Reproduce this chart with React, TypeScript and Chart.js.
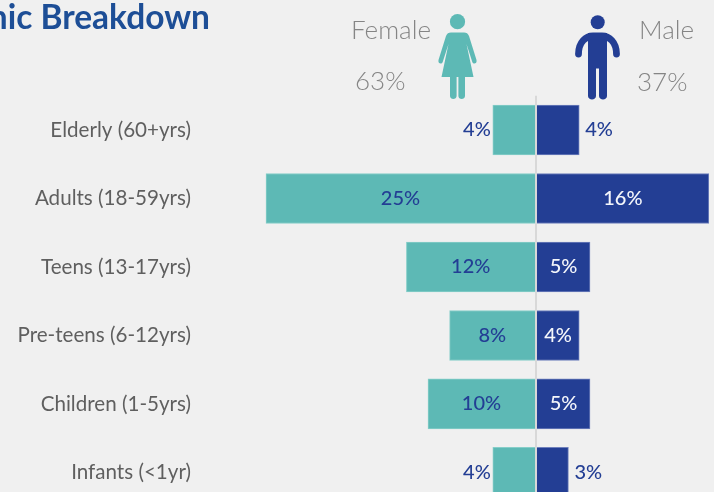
import React, { useEffect, useRef } from "react";
import { Chart, registerables } from "chart.js";

Chart.register(...registerables);

const categories = [
  "Elderly (60+yrs)",
  "Adults (18-59yrs)",
  "Teens (13-17yrs)",
  "Pre-teens (6-12yrs)",
  "Children (1-5yrs)",
  "Infants (<1yr)",
];
const femaleValues = [4, 25, 12, 8, 10, 4];
const maleValues = [4, 16, 5, 4, 5, 3];

const TEAL = "#5DB9B5";
const NAVY = "#233E94";
const FONT = "Lato, 'Noto Sans', sans-serif";

const barLabels = {
  id: "barLabels",
  afterDatasetsDraw(chart: any) {
    const { ctx } = chart;
    ctx.save();
    ctx.font = `500 20px ${FONT}`;
    ctx.textBaseline = "middle";
    chart.data.datasets.forEach((ds: any, di: number) => {
      chart.getDatasetMeta(di).data.forEach((bar: any, i: number) => {
        const v = Math.abs(ds.data[i]);
        const isFemale = di === 0;
        const outside = isFemale ? v < 8 : v < 4 || i === 0;
        const text = `${v}%`;
        const mid = (bar.x + bar.base) / 2;
        if (outside) {
          ctx.fillStyle = NAVY;
          ctx.textAlign = isFemale ? "right" : "left";
          ctx.fillText(text, bar.x + (isFemale ? -2 : 6), bar.y);
        } else {
          ctx.fillStyle = isFemale ? NAVY : "#F4F6FB";
          ctx.textAlign = "center";
          ctx.fillText(text, mid, bar.y);
        }
      });
    });
    ctx.restore();
  },
};

const headStyle: React.CSSProperties = {
  position: "absolute",
  font: `300 26px ${FONT}`,
  color: "#858585",
  lineHeight: "32px",
  whiteSpace: "nowrap",
};

export default function App() {
  const ref = useRef<HTMLCanvasElement>(null);
  useEffect(() => {
    const chart = new Chart(ref.current!, {
      type: "bar",
      data: {
        labels: categories,
        datasets: [
          {
            label: "Female",
            data: femaleValues.map((v) => -v),
            backgroundColor: TEAL,
            borderColor: "#86CEC9",
            borderWidth: 1,
            barThickness: 50,
          },
          {
            label: "Male",
            data: maleValues,
            backgroundColor: NAVY,
            borderColor: "#6F80BC",
            borderWidth: 1,
            barThickness: 50,
          },
        ],
      },
      options: {
        indexAxis: "y",
        animation: false,
        responsive: false,
        maintainAspectRatio: false,
        layout: { padding: { top: 95.8, bottom: 13.9, left: 0, right: 0 } },
        plugins: { legend: { display: false }, tooltip: { enabled: false } },
        scales: {
          x: {
            stacked: true,
            min: -30,
            max: 16.48,
            afterFit: (s: any) => {
              s.height = 0;
            },
            ticks: { display: false, stepSize: 10 },
            border: { display: false },
            grid: {
              drawTicks: false,
              z: 1,
              lineWidth: 2,
              color: (c: any) => (c.tick && c.tick.value === 0 ? "#D8D8D8" : "transparent"),
            },
          },
          y: {
            stacked: true,
            afterFit: (s: any) => {
              s.width = 212;
            },
            border: { display: false },
            grid: { display: false, drawTicks: false },
            ticks: {
              padding: 21,
              color: "#5F5F5F",
              font: { family: FONT, size: 20.6 },
            },
          },
        },
      },
      plugins: [barLabels],
    } as any);
    return () => chart.destroy();
  }, []);

  return (
    <div
      style={{
        position: "fixed",
        left: 0,
        top: 0,
        width: 714,
        height: 492,
        overflow: "hidden",
        background: "#F0F0F0",
      }}
    >
      <canvas ref={ref} width={714} height={540} style={{ position: "absolute", left: 0, top: 0, width: 714, height: 540 }} />
      <div
        style={{
          position: "absolute",
          right: 504,
          top: -3,
          font: `700 33.5px ${FONT}`,
          lineHeight: "38px",
          color: "#1D4E96",
          whiteSpace: "nowrap",
        }}
      >
        Demographic Breakdown
      </div>
      <div style={{ ...headStyle, left: 351, top: 13 }}>Female</div>
      <div style={{ ...headStyle, left: 355, top: 64 }}>63%</div>
      <div style={{ ...headStyle, left: 639, top: 13 }}>Male</div>
      <div style={{ ...headStyle, left: 637, top: 65 }}>37%</div>
      <svg width={714} height={492} style={{ position: "absolute", left: 0, top: 0 }}>
        <g fill={TEAL}>
          <circle cx={457.5} cy={21.7} r={7.6} />
          <path d="M451 32.5H464C466.5 32.5 468 33.5 469 36L476.5 60C477.3 63.5 473.5 65 472.3 62L466.5 44L473.5 77H465V96C465 100 458.4 100 458.4 96V77H456.6V96C456.6 100 450 100 450 96V77H441.5L448.5 44L442.7 62C441.5 65 437.7 63.5 438.5 60L446 36C447 33.5 448.5 32.5 451 32.5Z" />
        </g>
        <g fill={NAVY}>
          <circle cx={597.7} cy={22.3} r={7} />
          <path d="M588 33V96C588 100.5 596 100.5 596 96V68.5H599V96C599 100.5 607 100.5 607 96V33Z" />
        </g>
        <path
          d="M578.5 54C578.5 42 586 36 593 36H602C609 36 616.5 42 616.5 54"
          fill="none"
          stroke={NAVY}
          strokeWidth={6.8}
          strokeLinecap="round"
        />
      </svg>
    </div>
  );
}
